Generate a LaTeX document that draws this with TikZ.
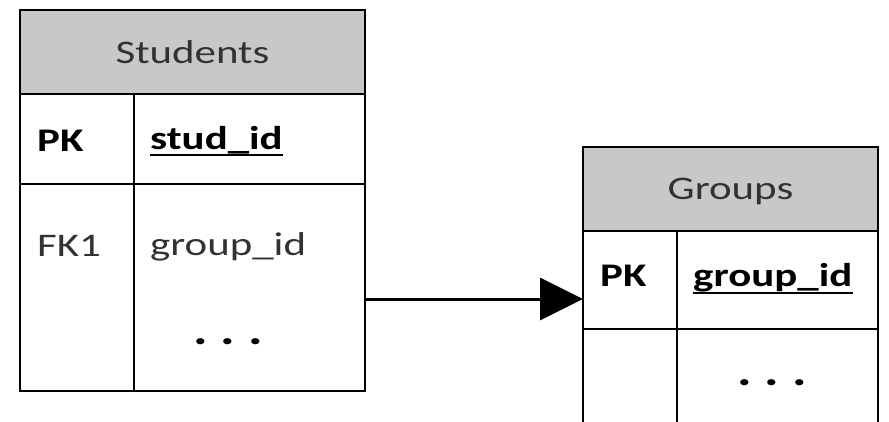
\documentclass[tikz,border=0pt]{standalone}
\usepackage{fontspec}
\setmainfont{Carlito}
\usetikzlibrary{arrows.meta}
\definecolor{headgray}{RGB}{200,200,200}
\definecolor{textgray}{RGB}{50,50,50}
\newcommand{\widetext}[1]{\scalebox{1.3}[1]{#1}}
\tikzset{
  cell/.style={draw, line width=2.5pt, anchor=north west, inner sep=0pt, outer sep=0pt},
  header/.style={cell, fill=headgray, text=textgray, text depth=0pt},
  field/.style={anchor=base west, inner sep=0pt, text=textgray},
  keyfield/.style={field, text=black, font=\fontsize{33}{40}\selectfont\bfseries},
  dots/.style={anchor=center, inner sep=0pt, text=black, font=\fontsize{42}{48}\selectfont\bfseries},
  fkarrow/.style={line width=3pt, -{Triangle[length=43pt, width=42pt]}}
}
\begin{document}
\begin{tikzpicture}[x=1pt, y=-1pt, every node/.style={font=\fontsize{33}{40}\selectfont}]
    \useasboundingbox (0,0) rectangle (889,422);
    % Students
    \node[header, minimum width=345pt, minimum height=84pt] (students) at (20,10) {\widetext{Students}};
    \node[cell, minimum width=114pt, minimum height=90pt] (skey1) at (20,94) {};
    \node[cell, minimum width=231pt, minimum height=90pt] (sval1) at (134,94) {};
    \node[cell, minimum width=114pt, minimum height=207pt] (skey2) at (20,184) {};
    \node[cell, minimum width=231pt, minimum height=207pt] (sval2) at (134,184) {};
    \node[keyfield] (spk) at (37,152) {\widetext{PK}};
    \node[keyfield] (sid) at (150,150) {\widetext{stud\_id}};
    \draw[line width=2.2pt] ([yshift=-5pt]sid.base west) -- ([yshift=-5pt]sid.base east);
    \node[field] (sfk) at (37,256) {\widetext{FK1}};
    \node[field] (sgid) at (150,255) {\widetext{group\_id}};
    \node[dots] (sdots) at (228,342) {\widetext{.\kern10pt.\kern10pt.}};
    % Groups
    \node[header, minimum width=295pt, minimum height=84pt] (groups) at (583,147) {\widetext{Groups}};
    \node[cell, minimum width=94pt, minimum height=98pt] (gkey1) at (583,231) {};
    \node[cell, minimum width=201pt, minimum height=98pt] (gval1) at (677,231) {};
    \node[cell, minimum width=94pt, minimum height=100pt] (gkey2) at (583,329) {};
    \node[cell, minimum width=201pt, minimum height=100pt] (gval2) at (677,329) {};
    \node[keyfield] (gpk) at (600,287) {\widetext{PK}};
    \node[keyfield] (gid) at (693,287) {\widetext{group\_id}};
    \draw[line width=2.2pt] ([yshift=-6pt]gid.base west) -- ([yshift=-6pt]gid.base east);
    \node[dots] (gdots) at (772,383) {\widetext{.\kern10pt.\kern10pt.}};
    % reference
    \coordinate (fkout) at (365,299);
    \draw[fkarrow] (fkout) -- (fkout -| gkey1.west);
\end{tikzpicture}
\end{document}
